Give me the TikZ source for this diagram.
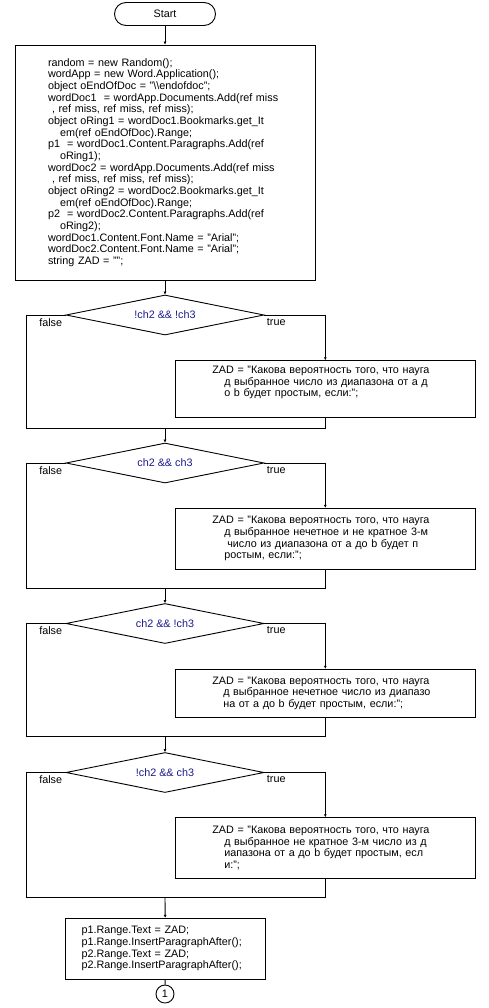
\documentclass[tikz,border=0pt]{standalone}
\usepackage{fontspec}
\setmainfont{Liberation Sans}
\usepackage{xcolor}
\usepackage{tikz}
\usetikzlibrary{arrows.meta,shapes.geometric}
\definecolor{cond}{HTML}{1A1A8C}

\begin{document}
\begin{tikzpicture}[x=1pt,y=-1pt,
  font=\fontsize{10.8}{11.67}\selectfont,
  >={Latex[length=3pt,width=3pt]},
  line width=0.9pt,
  terminal/.style={draw,rounded corners=11.5pt,minimum width=101pt,minimum height=23pt,inner sep=0pt},
  procbox/.style={draw,align=left,inner sep=0pt,minimum width=#1},
  ifbox/.style={draw,align=left,inner sep=0pt,minimum width=300pt,text width=226pt},
  decision/.style={diamond,draw,text=cond,inner sep=0pt,minimum width=198pt,minimum height=40pt,aspect=5},
  branch/.style={inner sep=0pt},
  connector/.style={circle,draw,minimum size=18pt,inner sep=0pt},
  ]
  \useasboundingbox (0,0) rectangle (488,1008);

  % ---- start and initialisation ----
  \node[terminal] (start) at (165,14) {Start};
  \node[procbox=300pt,text width=234pt,minimum height=235pt] (init) at (165,162.5)
    {random = new Random();\\
     wordApp = new Word.Application();\\
     object oEndOfDoc = "\textbackslash\textbackslash endofdoc";\\
     wordDoc1\ \ = wordApp.Documents.Add(ref miss\\
     \hspace*{4pt}, ref miss, ref miss, ref miss);\\
     object oRing1 = wordDoc1.Bookmarks.get\_It\\
     \hspace*{12pt}em(ref oEndOfDoc).Range;\\
     p1\ \ = wordDoc1.Content.Paragraphs.Add(ref\\
     \hspace*{12pt}oRing1);\\
     wordDoc2 = wordApp.Documents.Add(ref miss\\
     \hspace*{4pt}, ref miss, ref miss, ref miss);\\
     object oRing2 = wordDoc2.Bookmarks.get\_It\\
     \hspace*{12pt}em(ref oEndOfDoc).Range;\\
     p2\ \ = wordDoc2.Content.Paragraphs.Add(ref\\
     \hspace*{12pt}oRing2);\\
     wordDoc1.Content.Font.Name = "Arial";\\
     wordDoc2.Content.Font.Name = "Arial";\\
     string ZAD = "";};
  \draw[->] (start) -- (init);

  % ---- branch 1 ----
  \node[decision] (d1) at (165,315) {!ch2 \&\& !ch3};
  \node[branch,anchor=north east] (f1) at ([xshift=-3pt,yshift=-3pt]d1.west) {false};
  \node[branch,anchor=north west] (r1) at ([xshift=2pt,yshift=-3pt]d1.east) {true};
  \node[ifbox,minimum height=56.6pt] (t1) at (325.3,389)
    {ZAD = "Какова вероятность того, что науга\\
     \hspace*{12pt}д выбранное число из диапазона от а д\\
     \hspace*{12pt}о b будет простым, если:";\\ \strut};
  \coordinate (c1) at (26,428);
  \coordinate (j1) at (165,428);
  \draw[->] (init) -- (d1);
  \draw[->] (d1.east) -| (t1.north);
  \draw (d1.west) -| (c1) -| (t1.south);

  % ---- branch 2 ----
  \node[decision] (d2) at (165,463) {ch2 \&\& ch3};
  \node[branch,anchor=north east] (f2) at ([xshift=-3pt,yshift=-3pt]d2.west) {false};
  \node[branch,anchor=north west] (r2) at ([xshift=2pt,yshift=-3pt]d2.east) {true};
  \node[ifbox,minimum height=61pt] (t2) at (325.3,538.8)
    {ZAD = "Какова вероятность того, что науга\\
     \hspace*{12pt}д выбранное нечетное и не кратное 3-м\\
     \hspace*{15pt}число из диапазона от а до b будет п\\
     \hspace*{12pt}ростым, если:";};
  \coordinate (c2) at (26,588.3);
  \coordinate (j2) at (165,588.3);
  \draw[->] (j1) -- (d2);
  \draw[->] (d2.east) -| (t2.north);
  \draw (d2.west) -| (c2) -| (t2.south);

  % ---- branch 3 ----
  \node[decision] (d3) at (165,623.5) {ch2 \&\& !ch3};
  \node[branch,anchor=north east] (f3) at ([xshift=-3pt,yshift=-3pt]d3.west) {false};
  \node[branch,anchor=north west] (r3) at ([xshift=2pt,yshift=-3pt]d3.east) {true};
  \node[ifbox,minimum height=48pt] (t3) at (325.3,693.3)
    {ZAD = "Какова вероятность того, что науга\\
     \hspace*{11pt}д выбранное нечетное число из диапазо\\
     \hspace*{11pt}на от а до b будет простым, если:";};
  \coordinate (c3) at (26,736.7);
  \coordinate (j3) at (165,736.7);
  \draw[->] (j2) -- (d3);
  \draw[->] (d3.east) -| (t3.north);
  \draw (d3.west) -| (c3) -| (t3.south);

  % ---- branch 4 ----
  \node[decision] (d4) at (165,772.5) {!ch2 \&\& ch3};
  \node[branch,anchor=north east] (f4) at ([xshift=-3pt,yshift=-3pt]d4.west) {false};
  \node[branch,anchor=north west] (r4) at ([xshift=2pt,yshift=-3pt]d4.east) {true};
  \node[ifbox,minimum height=60.6pt] (t4) at (325.3,848)
    {ZAD = "Какова вероятность того, что науга\\
     \hspace*{12pt}д выбранное не кратное 3-м число из д\\
     \hspace*{12pt}иапазона от а до b будет простым, есл\\
     \hspace*{12pt}и:";};
  \coordinate (c4) at (26,897.7);
  \coordinate (j4) at (165,897.7);
  \draw[->] (j3) -- (d4);
  \draw[->] (d4.east) -| (t4.north);
  \draw (d4.west) -| (c4) -| (t4.south);

  % ---- output ----
  \node[procbox=200.4pt,text width=168pt,minimum height=61pt] (out) at (165.5,948.8)
    {p1.Range.Text = ZAD;\\
     p1.Range.InsertParagraphAfter();\\
     p2.Range.Text = ZAD;\\
     p2.Range.InsertParagraphAfter();};
  \node[connector] (c) at (165,994) {1};
  \draw[->] (j4) -- (out);
  \draw (out) -- (c);
\end{tikzpicture}
\end{document}
